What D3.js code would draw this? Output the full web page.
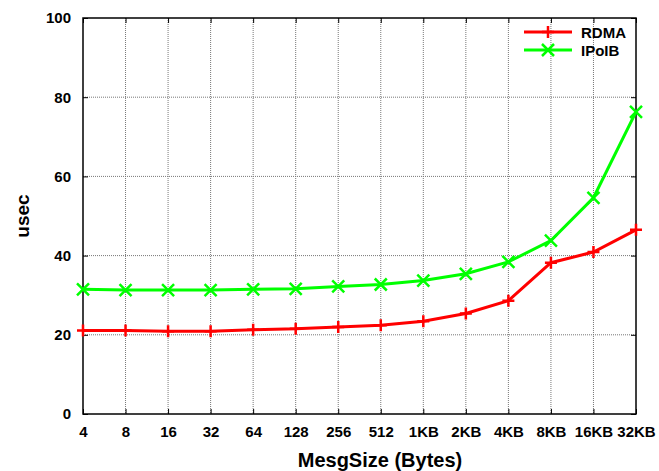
<!DOCTYPE html>
<html>
<head>
<meta charset="utf-8">
<script src="https://cdn.jsdelivr.net/npm/d3@7"></script>
<style>
  body { margin: 0; background: #fff; }
  text { font-family: "Liberation Sans", Arial, sans-serif; font-weight: bold; }
</style>
</head>
<body>
<div id="chart"></div>
<script>
let width = 659,
    height = 471,
    margin = ({ top: 18, right: 23, bottom: 57, left: 83 });

const sizes = ["4", "8", "16", "32", "64", "128", "256", "512", "1KB", "2KB", "4KB", "8KB", "16KB", "32KB"];
const rdma = [21.1, 21.1, 20.9, 20.9, 21.3, 21.5, 22.0, 22.4, 23.4, 25.4, 28.6, 38.2, 40.9, 46.5];
const ipoib = [31.5, 31.3, 31.3, 31.3, 31.5, 31.6, 32.2, 32.7, 33.7, 35.4, 38.4, 43.8, 54.6, 76.3];
const yTicks = [0, 20, 40, 60, 80, 100];

const series = [
  { name: "RDMA", values: rdma, color: "#ff0000", mark: "plus" },
  { name: "IPoIB", values: ipoib, color: "#00ff00", mark: "cross" }
];

const svg = d3.select("#chart")
  .append("svg")
  .attr("width", width)
  .attr("height", height);

let x = d3.scalePoint()
  .domain(sizes)
  .range([margin.left, width - margin.right]);

let y = d3.scaleLinear()
  .domain([0, 100])
  .range([height - margin.bottom, margin.top]);

// grid (dotted)
svg.append("g")
  .selectAll("line.vg")
  .data(sizes.slice(1, -1))
  .join("line")
  .attr("x1", d => x(d)).attr("x2", d => x(d))
  .attr("y1", margin.top).attr("y2", height - margin.bottom)
  .attr("stroke", "#777").attr("stroke-width", 1).attr("stroke-dasharray", "1,1");

svg.append("g")
  .selectAll("line.hg")
  .data(yTicks.slice(1, -1))
  .join("line")
  .attr("x1", margin.left).attr("x2", width - margin.right)
  .attr("y1", d => y(d)).attr("y2", d => y(d))
  .attr("stroke", "#777").attr("stroke-width", 1).attr("stroke-dasharray", "1,1");

// axes with inward ticks, mirrored
svg.append("g")
  .attr("transform", `translate(0,${height - margin.bottom})`)
  .call(d3.axisBottom(x).tickSize(-5).tickPadding(12))
  .call(g => g.select(".domain").remove())
  .call(g => g.selectAll("text").attr("font-size", 15).attr("fill", "#000"));

svg.append("g")
  .attr("transform", `translate(0,${margin.top})`)
  .call(d3.axisTop(x).tickSize(-5).tickFormat(""))
  .call(g => g.select(".domain").remove());

svg.append("g")
  .attr("transform", `translate(${margin.left},0)`)
  .call(d3.axisLeft(y).tickValues(yTicks).tickSize(-5).tickPadding(12))
  .call(g => g.select(".domain").remove())
  .call(g => g.selectAll("text").attr("font-size", 15).attr("fill", "#000"));

svg.append("g")
  .attr("transform", `translate(${width - margin.right},0)`)
  .call(d3.axisRight(y).tickValues(yTicks).tickSize(-5).tickFormat(""))
  .call(g => g.select(".domain").remove());

// border
svg.append("rect")
  .attr("x", margin.left).attr("y", margin.top)
  .attr("width", width - margin.left - margin.right)
  .attr("height", height - margin.top - margin.bottom)
  .attr("fill", "none").attr("stroke", "#000").attr("stroke-width", 1.5);

// axis titles
svg.append("text")
  .attr("x", 380)
  .attr("y", 467)
  .attr("text-anchor", "middle")
  .attr("font-size", 20)
  .text("MesgSize (Bytes)");

svg.append("text")
  .attr("transform", `translate(29,${(margin.top + height - margin.bottom) / 2}) rotate(-90)`)
  .attr("text-anchor", "middle")
  .attr("font-size", 19)
  .text("usec");

function marker(g, type, cx, cy, color) {
  const p = type === "plus"
    ? `M${cx - 6},${cy}H${cx + 6}M${cx},${cy - 6}V${cy + 6}`
    : `M${cx - 6},${cy - 6}L${cx + 6},${cy + 6}M${cx - 6},${cy + 6}L${cx + 6},${cy - 6}`;
  g.append("path").attr("d", p).attr("stroke", color).attr("stroke-width", 2.5).attr("fill", "none");
}

const line = d3.line()
  .x((d, i) => x(sizes[i]))
  .y(d => y(d));

series.forEach(s => {
  svg.append("path")
    .datum(s.values)
    .attr("d", line)
    .attr("fill", "none")
    .attr("stroke", s.color)
    .attr("stroke-width", 3);
  const g = svg.append("g");
  s.values.forEach((v, i) => marker(g, s.mark, x(sizes[i]), y(v), s.color));
});

// legend
const legend = svg.append("g");
series.forEach((s, i) => {
  const ly = 32 + i * 18;
  legend.append("line")
    .attr("x1", 524).attr("x2", 572)
    .attr("y1", ly).attr("y2", ly)
    .attr("stroke", s.color).attr("stroke-width", 3);
  marker(legend, s.mark, 548, ly, s.color);
  legend.append("text")
    .attr("x", 581).attr("y", ly + 5.5)
    .attr("font-size", 15)
    .text(s.name);
});
</script>
</body>
</html>
